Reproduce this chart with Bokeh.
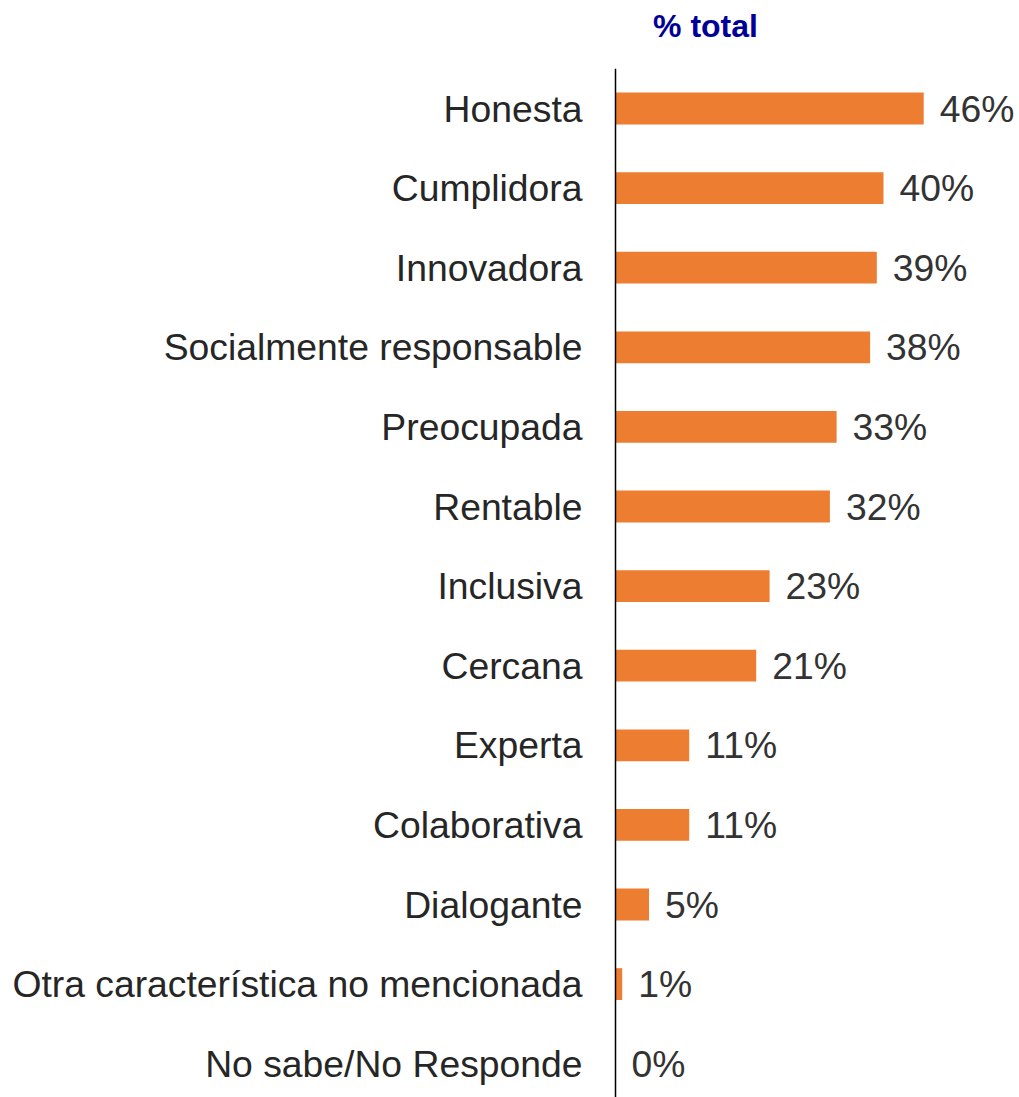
from bokeh.plotting import figure
from bokeh.models import Range1d, Label, ColumnDataSource
from bokeh.core.properties import value
from bokeh.embed import file_html
from bokeh.resources import INLINE

categories = ["Honesta", "Cumplidora", "Innovadora", "Socialmente responsable",
              "Preocupada", "Rentable", "Inclusiva", "Cercana", "Experta",
              "Colaborativa", "Dialogante", "Otra característica no mencionada",
              "No sabe/No Responde"]
values = [46, 40, 39, 38, 33, 32, 23, 21, 11, 11, 5, 1, 0]
value_labels = ["46%", "40%", "39%", "38%", "33%", "32%", "23%", "21%", "11%",
                "11%", "5%", "1%", "0%"]
title_text = "% total"

W, H = 1019, 1097
zero_px = 615.0      # x pixel of the 0 value
px_per_pct = 6.7
row_px = 79.6
first_row_px = 108.0

x_start = -zero_px / px_per_pct
x_end = (W - zero_px) / px_per_pct
y_top = -first_row_px / row_px
y_bottom = (H - first_row_px) / row_px

p = figure(width=W, height=H, output_backend="svg", toolbar_location=None,
           x_range=Range1d(x_start, x_end), y_range=Range1d(y_bottom, y_top),
           x_axis_type=None, y_axis_type=None, min_border=0)
p.outline_line_color = None
p.xgrid.visible = False
p.ygrid.visible = False
p.background_fill_color = "white"

idx = list(range(len(categories)))
src = ColumnDataSource(dict(y=idx, v=values, cat=categories, lab=value_labels,
                            zero=[0] * len(idx)))

p.hbar(y="y", left=0, right="v", height=0.40, source=src,
       fill_color="#ED7D31", line_color=None)

# axis line
p.segment(x0=[0], y0=[-0.5], x1=[0], y1=[y_bottom], line_color="black", line_width=1.5)

p.text(x="zero", y="y", text="cat", source=src, x_offset=-33,
       text_align="right", text_baseline="middle",
       text_font=value("Liberation Sans"), text_font_size="37.3px",
       text_color="#262626")

p.text(x="v", y="y", text="lab", source=src, x_offset=16,
       text_align="left", text_baseline="middle",
       text_font=value("Liberation Sans"), text_font_size="37.3px",
       text_color="#333333")

p.add_layout(Label(x=705, y=H - 25, x_units="screen", y_units="screen",
                   text=title_text, text_align="center", text_baseline="middle",
                   text_font="Liberation Sans", text_font_size="32px",
                   text_font_style="bold", text_color="#000099"))

open("out.html", "w").write(file_html(p, INLINE))
